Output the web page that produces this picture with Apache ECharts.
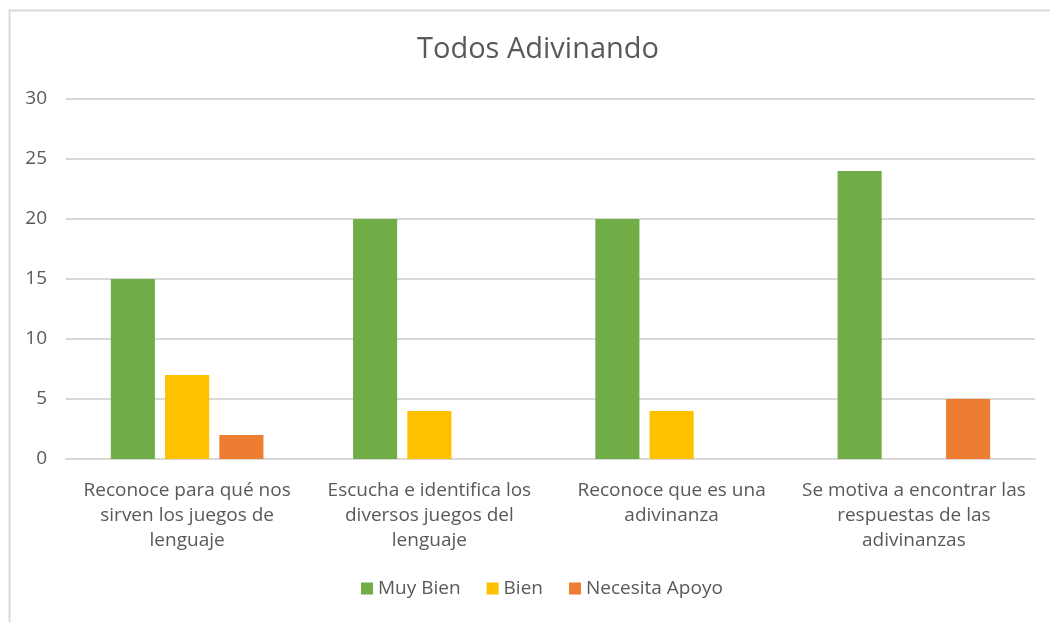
<!DOCTYPE html>
<html lang="es">
<head>
    <meta charset="UTF-8">
    <title>Todos Adivinando</title>
    <script src="https://cdn.jsdelivr.net/npm/echarts@6/dist/echarts.min.js"></script>
    <style>
        body { margin: 0; background: #ffffff; }
        #chart { width: 1050px; height: 622px; }
    </style>
</head>
<body>
    <div id="chart"></div>
    <script>
        const categories = [
            'Reconoce para qué nos\nsirven los juegos de\nlenguaje',
            'Escucha e identifica los\ndiversos juegos del\nlenguaje',
            'Reconoce que es una\nadivinanza',
            'Se motiva a encontrar las\nrespuestas de las\nadivinanzas'
        ];
        const muyBien = [15, 20, 20, 24];
        const bien = [7, 4, 4, 0];
        const necesitaApoyo = [2, 0, 0, 5];

        const textColor = '#595959';
        const font = '"Open Sans", "Liberation Sans", sans-serif';

        const option = {
            backgroundColor: '#ffffff',
            textStyle: { fontFamily: font },
            graphic: [{
                type: 'rect',
                left: 7, top: 8,
                shape: { width: 1200, height: 800 },
                style: { fill: 'none', stroke: '#d9d9d9', lineWidth: 2 },
                silent: true
            }],
            title: {
                text: 'Todos Adivinando',
                left: 412,
                top: 30,
                textStyle: { color: textColor, fontSize: 29, fontWeight: 'normal', fontFamily: font }
            },
            legend: {
                bottom: 19,
                left: 356,
                icon: 'rect',
                itemWidth: 12,
                itemHeight: 12,
                itemGap: 26,
                textStyle: { color: textColor, fontSize: 19, fontFamily: font },
                data: ['Muy Bien', 'Bien', 'Necesita Apoyo']
            },
            grid: { left: 66, right: 15, top: 99, bottom: 163 },
            xAxis: {
                type: 'category',
                data: categories,
                axisLine: { lineStyle: { color: '#d9d9d9', width: 2 } },
                axisTick: { show: false },
                axisLabel: { color: textColor, fontSize: 19, lineHeight: 25, margin: 19, interval: 0, fontFamily: font }
            },
            yAxis: {
                type: 'value',
                min: 0, max: 30, interval: 5,
                axisLine: { show: false },
                axisTick: { show: false },
                splitLine: { lineStyle: { color: '#d9d9d9', width: 2 } },
                axisLabel: { color: textColor, fontSize: 19, margin: 19, fontFamily: font }
            },
            series: [
                { name: 'Muy Bien', type: 'bar', data: muyBien, itemStyle: { color: '#70AD47' }, barGap: '23%', barCategoryGap: '37%' },
                { name: 'Bien', type: 'bar', data: bien, itemStyle: { color: '#FFC000' } },
                { name: 'Necesita Apoyo', type: 'bar', data: necesitaApoyo, itemStyle: { color: '#ED7D31' } }
            ]
        };

        const chart = echarts.init(document.getElementById('chart'));
        chart.setOption(option);
    </script>
</body>
</html>
